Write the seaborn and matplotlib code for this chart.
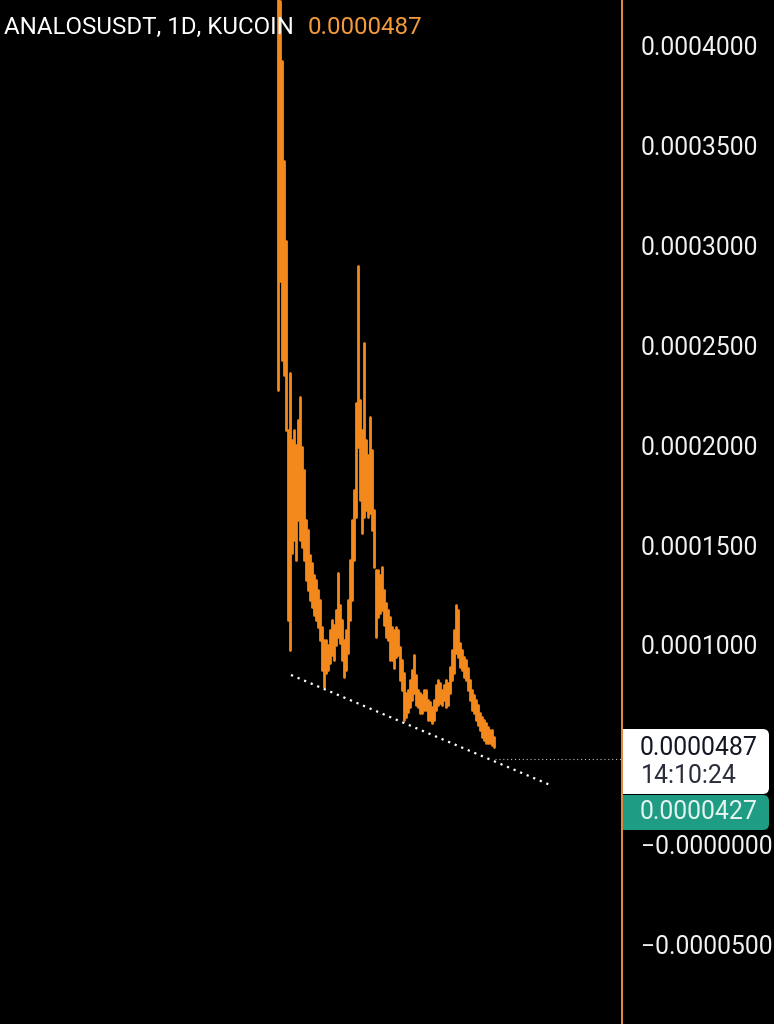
import numpy as np
import pandas as pd
import matplotlib
matplotlib.use("Agg")
import matplotlib.pyplot as plt
import seaborn as sns
from matplotlib.patches import FancyBboxPatch, Rectangle

# ---------------- data ----------------
symbol = "ANALOSUSDT, 1D, KUCOIN"
last_price_text = "0.0000487"
countdown_text = "14:10:24"
trend_value_text = "0.0000427"

# daily candle highs / lows in units of 1e-7 USDT
high_e7 = [4500, 4225, 3925, 3425, 3025, 2075, 2360, 2025, 2075, 2000,
           2125, 2240, 1990, 1875, 1625, 1575, 1450, 1410, 1350, 1325,
           1275, 1225, 1090, 1025, 1025, 1000, 1075, 1125, 1100, 1175,
           1360, 1200, 1125, 1025, 1075, 1225, 1425, 1625, 1775, 2210,
           2900, 2225, 2075, 2510, 2025, 1950, 2140, 1975, 1675, 1375,
           1375, 1350, 1390, 1275, 1210, 1175, 1140, 1090, 1075, 1090,
           1075, 990, 925, 860, 760, 775, 825, 875, 950, 850,
           775, 760, 750, 775, 775, 725, 715, 690, 725, 800,
           825, 810, 775, 800, 825, 810, 890, 975, 1075, 1200,
           1175, 1010, 975, 940, 925, 885, 825, 775, 750, 725,
           700, 660, 640, 625, 610, 590, 575, 575, 540]
low_e7 = [2275, 2825, 2425, 2350, 2075, 1125, 975, 1460, 1525, 1425,
          1625, 1525, 1490, 1425, 1325, 1275, 1225, 1190, 1150, 1125,
          1090, 1025, 875, 790, 860, 875, 910, 950, 925, 1000,
          1040, 1010, 925, 840, 875, 960, 1125, 1225, 1425, 1640,
          1990, 1725, 1560, 1640, 1675, 1640, 1660, 1575, 1390, 1040,
          1140, 1160, 1175, 1100, 1040, 1025, 925, 925, 885, 940,
          950, 825, 775, 625, 640, 665, 690, 725, 760, 700,
          690, 660, 660, 675, 675, 625, 625, 610, 625, 675,
          700, 710, 700, 725, 690, 700, 760, 825, 860, 960,
          940, 890, 875, 840, 825, 775, 725, 675, 660, 625,
          600, 575, 540, 525, 510, 510, 510, 500, 490]

tick_values = [0.0004, 0.00035, 0.0003, 0.00025, 0.0002, 0.00015, 0.0001, 0.0, -0.00005]
tick_labels = ["0.0004000", "0.0003500", "0.0003000", "0.0002500", "0.0002000",
               "0.0001500", "0.0001000", "\u22120.0000000", "\u22120.0000500"]

trend_x = [6.5, 137.0]
trend_y = [0.0000850, 0.0000295]
level_value = 0.0000427

# ---------------- style ----------------
sns.set_theme(style="dark", rc={"axes.facecolor": "black", "figure.facecolor": "black",
                                "savefig.facecolor": "black"})
plt.rcParams["font.family"] = ["Roboto", "DejaVu Sans"]

ORANGE = "#f48a1e"
AXIS_ORANGE = "#e98c3e"

W, H = 774, 1024
fig = plt.figure(figsize=(W / 100, H / 100), dpi=100)
ax = fig.add_axes([0, 0, 622 / W, 1])
ax.set_facecolor("black")

hi = np.array(high_e7) * 1e-7
lo = np.array(low_e7) * 1e-7
idx = np.arange(len(hi))
df = pd.DataFrame({"day": np.concatenate([idx, idx]),
                   "price": np.concatenate([hi, lo])})

sns.lineplot(data=df, x="day", y="price", units="day", estimator=None,
             color=ORANGE, lw=2.0, ax=ax, legend=False)

# support trendline (white dotted)
sns.lineplot(x=trend_x, y=trend_y, color="white", lw=1.6,
             linestyle=(0, (1, 2.2)), ax=ax, legend=False)

# horizontal dotted level line
ax.hlines(level_value, idx[-1] + 0.5, 172, colors="#bdbdbd", lw=0.8,
          linestyles=(0, (1, 2.5)))

ax.set_xlim(-139, 172)
ax.set_ylim(-(1024 - 844.7) / 199.7 * 1e-4, 844.7 / 199.7 * 1e-4)
ax.set_xticks([])
ax.set_xlabel("")
ax.set_ylabel("")
ax.grid(False)

ax.yaxis.tick_right()
ax.set_yticks(tick_values)
ax.set_yticklabels(tick_labels)
ax.tick_params(axis="y", length=0, pad=13.5, labelsize=17.7, labelcolor="#f2f2f2")

for s in ["top", "left", "bottom"]:
    ax.spines[s].set_visible(False)
ax.spines["right"].set_visible(True)
ax.spines["right"].set_color(AXIS_ORANGE)
ax.spines["right"].set_linewidth(1.4)

# ---------------- header ----------------
fig.text(4 / W, 1 - 27 / H, symbol, color="white", fontsize=17.4, va="center", ha="left")
fig.text(308 / W, 1 - 27 / H, last_price_text, color="#f39a3d", fontsize=17.4,
         va="center", ha="left")

# ---------------- price labels on axis ----------------
def fx(px):
    return px / W


def fy(py):
    return 1 - py / H


# white last-price box
box_w = FancyBboxPatch((fx(623), fy(794)), fx(769) - fx(623), fy(729) - fy(794),
                       boxstyle="round,pad=0,rounding_size=0.008",
                       transform=fig.transFigure, facecolor="white", edgecolor="none",
                       mutation_aspect=W / H)
fig.add_artist(box_w)
fig.add_artist(Rectangle((fx(623), fy(794)), fx(660) - fx(623), fy(729) - fy(794),
                         transform=fig.transFigure, facecolor="white", edgecolor="none"))
# green trend label box
box_g = FancyBboxPatch((fx(623), fy(830)), fx(769) - fx(623), fy(795) - fy(830),
                       boxstyle="round,pad=0,rounding_size=0.008",
                       transform=fig.transFigure, facecolor="#1e9d84", edgecolor="none",
                       mutation_aspect=W / H)
fig.add_artist(box_g)
fig.add_artist(Rectangle((fx(623), fy(830)), fx(660) - fx(623), fy(795) - fy(830),
                         transform=fig.transFigure, facecolor="#1e9d84", edgecolor="none"))

fig.text(fx(640), fy(748), last_price_text, color="#131722", fontsize=17.9,
         va="center", ha="left")
fig.text(fx(641), fy(776), countdown_text, color="#2a2e39", fontsize=17.9,
         va="center", ha="left")
fig.text(fx(640), fy(812), trend_value_text, color="#e6f4f0", fontsize=17.9,
         va="center", ha="left")

fig.savefig("out.png", dpi=100, facecolor="black")
